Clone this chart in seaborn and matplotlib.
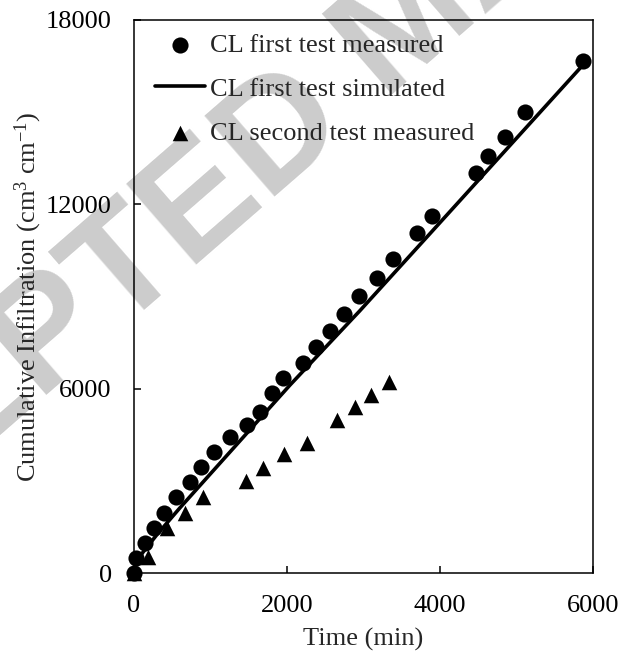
import matplotlib
matplotlib.use("Agg")
import matplotlib.pyplot as plt
import seaborn as sns
import pandas as pd

# Cumulative infiltration, CL soil column
first_time = [0, 20, 144, 261, 392, 549, 732, 876, 1046, 1255, 1477, 1647, 1804, 1948,
              2209, 2379, 2562, 2745, 2941, 3176, 3386, 3699, 3895, 4471, 4627, 4850,
              5111, 5869]
first_measured = [0, 490, 977, 1465, 1953, 2474, 2962, 3450, 3939, 4427, 4817, 5241,
                  5859, 6347, 6836, 7356, 7877, 8430, 9016, 9602, 10221, 11067, 11620,
                  13020, 13573, 14192, 15006, 16666]

sim_time = [0, 20, 100, 300, 600, 2040, 2950, 3830, 5870]
first_simulated = [0, 250, 620, 1250, 2120, 6120, 8530, 10940, 16540]

second_time = [0, 183, 431, 667, 902, 1464, 1686, 1961, 2261, 2654, 2889, 3098, 3333]
second_measured = [0, 521, 1465, 1953, 2474, 2995, 3418, 3873, 4232, 4980, 5403, 5794,
                   6217]

x_ticks = [0, 2000, 4000, 6000]
y_ticks = [0, 6000, 12000, 18000]

df_first = pd.DataFrame({"t": first_time, "I": first_measured})
df_sim = pd.DataFrame({"t": sim_time, "I": first_simulated})
df_second = pd.DataFrame({"t": second_time, "I": second_measured})

sns.set_style("ticks")
plt.rcParams["font.family"] = ["Liberation Serif", "DejaVu Serif"]
plt.rcParams["mathtext.fontset"] = "custom"
plt.rcParams["mathtext.rm"] = "Liberation Serif"
plt.rcParams["mathtext.it"] = "Liberation Serif:italic"

FS = 19

fig = plt.figure(figsize=(6.26, 6.59), dpi=100)
ax = fig.add_axes([134 / 626, 1 - 573 / 659, (593 - 134) / 626, (573 - 20) / 659])
ax.set_facecolor("none")

# faint diagonal watermark behind the data
fig.text(0.655, 0.962, "ACCEPTED MANUSCRIPT", rotation=41, rotation_mode="anchor",
         ha="center", va="center", fontsize=112, fontweight="bold", color="#cccccc",
         family="Liberation Sans", zorder=-5)

sns.lineplot(data=df_sim, x="t", y="I", ax=ax, color="black", lw=2.6,
             label="CL first test simulated", zorder=2)
sns.scatterplot(data=df_first, x="t", y="I", ax=ax, marker="o", s=135,
                color="black", edgecolor="black", linewidth=0, clip_on=False,
                label="CL first test measured", zorder=3)
sns.scatterplot(data=df_second, x="t", y="I", ax=ax, marker="^", s=125,
                color="black", edgecolor="black", linewidth=0, clip_on=False,
                label="CL second test measured", zorder=3)

ax.set_xlim(0, 6000)
ax.set_ylim(0, 18000)
ax.set_xticks(x_ticks)
ax.set_yticks(y_ticks)
ax.tick_params(direction="in", length=5, width=1.1, labelsize=FS, pad=16,
               colors="black")
for side in ["top", "right", "left", "bottom"]:
    ax.spines[side].set_visible(True)
    ax.spines[side].set_linewidth(1.1)
    ax.spines[side].set_color("black")

ax.set_xlabel("Time (min)", fontsize=FS, labelpad=8)
ax.set_ylabel(r"Cumulative Infiltration (cm$^{\mathrm{3}}$ cm$^{\mathrm{-1}}$)",
              fontsize=FS)
ax.yaxis.set_label_coords(-0.195, 0.5)

handles, labels = ax.get_legend_handles_labels()
order = ["CL first test measured", "CL first test simulated", "CL second test measured"]
hmap = dict(zip(labels, handles))
ax.legend([hmap[k] for k in order], order, loc="upper left", frameon=False,
          fontsize=FS, handlelength=1.9, handletextpad=0.2, labelspacing=0.78,
          borderaxespad=0.1, bbox_to_anchor=(0.017, 1.0))

fig.savefig("out.png", dpi=100)
